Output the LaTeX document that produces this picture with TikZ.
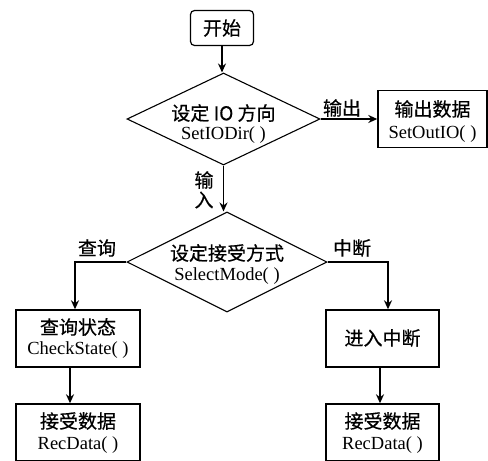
\documentclass[tikz,border=0pt]{standalone}
\usepackage{fontspec}
\setmainfont{Liberation Serif}
\newfontfamily\cjk[BoldFont={Noto Sans CJK SC},BoldFeatures={FakeBold=0.5}]{Noto Sans CJK SC}
\usetikzlibrary{shapes.geometric,arrows.meta,calc}
\begin{document}
\begin{tikzpicture}[x=1pt,y=-1pt,
  box/.style={draw,line width=1.4pt,minimum width=#1,minimum height=57pt,inner sep=0pt},
  dia/.style={draw,diamond,line width=1.1pt,inner sep=0pt},
  zh/.style={font=\cjk\bfseries\fontsize{19}{19}\selectfont,inner sep=0pt},
  en/.style={font=\fontsize{18.5}{18.5}\selectfont,inner sep=0pt},
  arr/.style={line width=1.6pt,-{Stealth[length=9pt,width=8pt]}}]
\useasboundingbox (0,0) rectangle (488,461);
% start
\node[draw,rounded corners=4pt,line width=1.2pt,minimum width=63pt,minimum height=35pt,inner sep=0pt] (start) at (222,28) {};
\node[zh] (tstart) at (222,28) {开始};
% diamond 1
\node[dia,minimum width=193pt,minimum height=92pt] (d1) at (223.5,119) {};
\node[zh] (d1a) at (223.5,113) {设定 IO 方向};
\node[en] (d1b) at (223.5,135) {SetIODir( )};
% output box
\node[box=109pt] (out) at (432.5,119) {};
\node[zh] (outa) at (432.5,109) {输出数据};
\node[en] (outb) at (432.5,134) {SetOutIO( )};
% diamond 2
\node[dia,minimum width=200pt,minimum height=100pt] (d2) at (227,262) {};
\node[zh] (d2a) at (227,253) {设定接受方式};
\node[en] (d2b) at (227,276) {SelectMode( )};
% left column
\node[box=124pt] (chk) at (78,338.5) {};
\node[zh] (chka) at (78,327) {查询状态};
\node[en] (chkb) at (78,350) {CheckState( )};
\node[box=124pt] (rl) at (78,432.5) {};
\node[zh] (rla) at (78,421) {接受数据};
\node[en] (rlb) at (78,445) {RecData( )};
% right column
\node[box=113pt] (int) at (382.5,338.5) {};
\node[zh] (inta) at (382.5,338) {进入中断};
\node[box=113pt] (rr) at (382.5,432.5) {};
\node[zh] (rra) at (382.5,421) {接受数据};
\node[en] (rrb) at (382.5,445) {RecData( )};
% labels
\node[zh] (lout) at (342,108) {输出};
\node[zh] (lin1) at (204,180) {输};
\node[zh] (lin2) at (204,200) {入};
\node[zh] (lq) at (97,248) {查询};
\node[zh] (lz) at (352,248) {中断};
% connectors
\draw[arr] (start.south) -- (start.south |- d1.north);
\draw[arr] (d1.east) -- (out.west);
\draw[arr] (d1.south) -- (d1.south |- d2.north);
\draw[arr] (d2.west) -| ([xshift=-3pt]chk.north);
\draw[arr] (d2.east) -| ([xshift=5.5pt]int.north);
\draw[arr] ([xshift=-8pt]chk.south) -- ([xshift=-8pt]rl.north);
\draw[arr] ([xshift=-2.5pt]int.south) -- ([xshift=-2.5pt]rr.north);
\end{tikzpicture}
\end{document}
